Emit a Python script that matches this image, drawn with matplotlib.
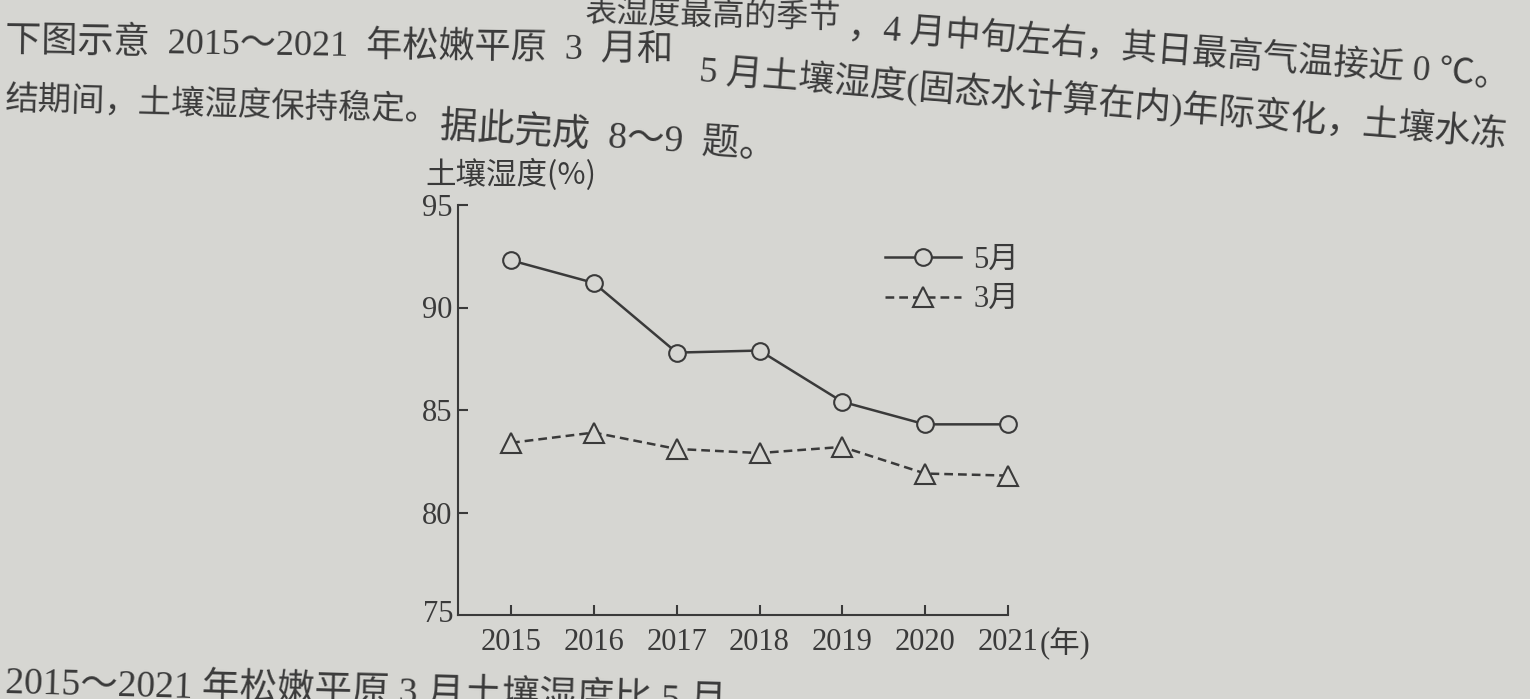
import matplotlib
matplotlib.use("Agg")
import matplotlib.pyplot as plt

plt.rcParams['font.family'] = ['Liberation Serif', 'Noto Sans CJK SC']

years = [2015, 2016, 2017, 2018, 2019, 2020, 2021]
may = [92.3, 91.2, 87.8, 87.9, 85.4, 84.3, 84.3]
march = [83.4, 83.9, 83.1, 82.9, 83.2, 81.9, 81.8]
yticks = [80, 85, 90, 95]

ink = '#3a3a3a'
paper = '#d6d6d2'

W, H = 1530, 699
fig = plt.figure(figsize=(W / 100, H / 100), dpi=100, facecolor=paper)

# surrounding page text (photo of a textbook page, lines drift downward)
body = [
    (585, 13, -1.5, 23, "表湿度最高的季节"),
    (848, 28, -4.3, 25.5, "，4 月中旬左右，其日最高气温接近 0 ℃。"),
    (5, 42, -0.8, 26, "下图示意  2015～2021  年松嫩平原  3  月和"),
    (700, 70, -4.6, 26, "5 月土壤湿度(固态水计算在内)年际变化，土壤水冻"),
    (5, 100, -1.5, 24, "结期间，土壤湿度保持稳定。"),
    (440, 128, -3.5, 27, "据此完成  8～9  题。"),
    (5, 684, -1.5, 27, "2015～2021 年松嫩平原 3 月土壤湿度比 5 月"),
]
for x, y, rot, size, s in body:
    fig.text(x / W, 1 - y / H, s, fontsize=size, color=ink, ha='left',
             va='center', rotation=rot, rotation_mode='anchor',
             family=['Liberation Serif', 'Noto Sans CJK SC'])

ax = fig.add_axes([458 / W, 1 - 615 / H, 550 / W, 410 / H])
ax.set_facecolor('none')

ax.plot(years, may, color=ink, lw=1.8, marker='o', ms=12, mfc=paper,
        mec=ink, mew=1.5, label='5月', clip_on=False)
ax.plot(years, march, color=ink, lw=1.8, ls=(0, (3.5, 2)), marker='^', ms=14,
        mfc=paper, mec=ink, mew=1.5, label='3月', clip_on=False)

ax.set_xlim(2014.36, 2021)
ax.set_ylim(75, 95)
ax.set_xticks(years)
ax.set_yticks(yticks)
for side in ['top', 'right']:
    ax.spines[side].set_visible(False)
for side in ['left', 'bottom']:
    ax.spines[side].set_linewidth(1.5)
    ax.spines[side].set_color(ink)
ax.tick_params(axis='both', direction='in', length=7, width=1.5, colors=ink,
               labelsize=22, labelcolor=ink)
ax.tick_params(axis='x', pad=9)
ax.tick_params(axis='y', pad=4)

# 75 sits at the corner of the axes
ax.text(-0.008, 0, '75', transform=ax.transAxes, ha='right', va='center',
        fontsize=22, color=ink)

ax.annotate('(年)', xy=(2021, 0), xycoords=('data', 'axes fraction'),
            xytext=(23, -9), textcoords='offset points', ha='left', va='top',
            fontsize=22, color=ink)

fig.text(425 / W, 1 - 175 / H, '土壤湿度(%)', fontsize=22, color=ink,
         ha='left', va='center', fontweight='medium',
         family=['Noto Sans CJK SC', 'Liberation Serif'])

leg = ax.legend(loc='center left', bbox_to_anchor=(885 / W, 1 - 280 / H),
                bbox_transform=fig.transFigure, frameon=False, fontsize=22,
                handlelength=2.5, handletextpad=0.4, labelspacing=0.35,
                borderpad=0, borderaxespad=0)
for t in leg.get_texts():
    t.set_color(ink)

fig.savefig('out.png', dpi=100, facecolor=paper)
